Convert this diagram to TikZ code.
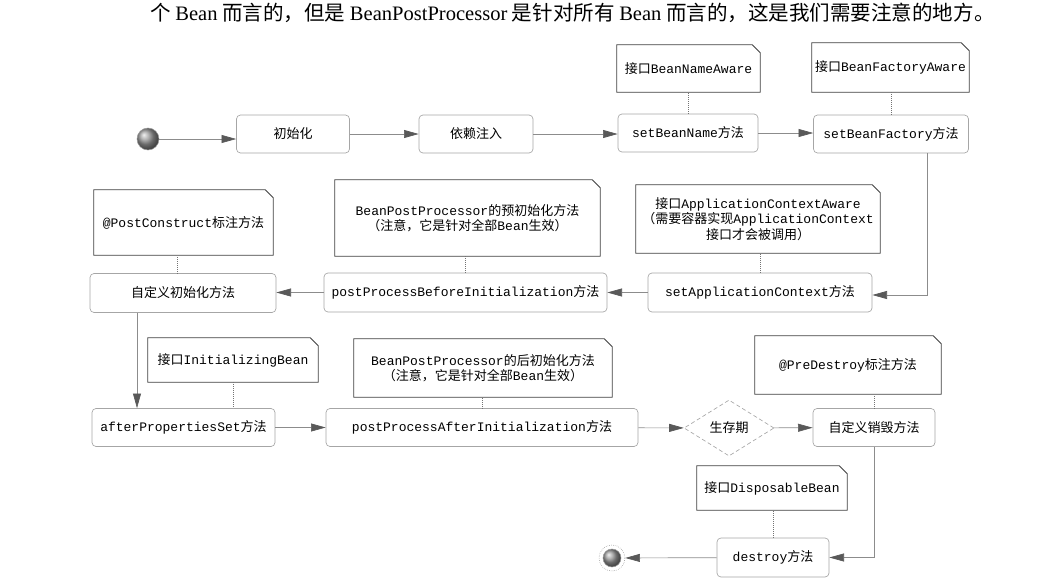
\documentclass[tikz,border=0pt]{standalone}
\usepackage{fontspec}
\setmainfont{Noto Sans CJK SC}
\setmonofont{Liberation Mono}
\newfontfamily\latinserif{Liberation Serif}
\usetikzlibrary{arrows.meta,shapes.geometric}

\tikzset{
  stepbox/.style={draw=black!35, line width=0.5pt, rounded corners=3pt, fill=white, inner sep=0pt, font=\fontsize{9.75}{11.5}\selectfont},
  notebox/.style={inner sep=0pt, align=center, font=\fontsize{9.75}{11.5}\selectfont},
  flow/.style={draw=black!45, line width=0.5pt, -{Triangle[length=11pt,width=6pt,color=black!65]}},
  link/.style={draw=black!55, line width=0.5pt, densely dotted},
}
% dog-eared frame round a note node
\newcommand{\noteframe}[1]{%
  \draw[draw=black!75, line width=0.6pt] (#1.north west) -- ([xshift=-6pt]#1.north east) -- ([yshift=6pt]#1.north east) -- (#1.south east) -- (#1.south west) -- cycle;
}

\begin{document}
\begin{tikzpicture}[x=0.75pt,y=0.75pt,yscale=-1,xscale=1]
\path[use as bounding box] (0,0) rectangle (1060,578);

% Text Node
\node[anchor=west, inner sep=0pt, font=\fontsize{15.4}{17}\selectfont] (caption) at (150,13) {个 {\latinserif Bean} 而言的，但是 {\latinserif BeanPostProcessor} 是针对所有 {\latinserif Bean} 而言的，这是我们需要注意的地方。};

%Row 1
\node[circle, draw=black!40, minimum size=16.5pt, inner sep=0pt, ball color=black!40] (start) at (148,139) {};
\node[stepbox, minimum width=84.75pt, minimum height=28.5pt] (init) at (293,134) {初始化};
\node[stepbox, minimum width=85.5pt, minimum height=28.5pt] (inject) at (476,134) {依赖注入};
\node[stepbox, minimum width=105pt, minimum height=28.5pt] (setName) at (688,133) {\texttt{setBeanName}方法};
\node[stepbox, minimum width=116.25pt, minimum height=28.5pt] (setFactory) at (891,134) {\texttt{setBeanFactory}方法};
\node[notebox, minimum width=107.25pt, minimum height=35.25pt] (noteName) at (688.5,68.5) {接口\texttt{BeanNameAware}};
\node[notebox, minimum width=117.75pt, minimum height=36.75pt] (noteFactory) at (890.5,67.5) {接口\texttt{BeanFactoryAware}};

%Row 2
\node[stepbox, minimum width=168pt, minimum height=29.25pt] (setApp) at (760,292.5) {\texttt{setApplicationContext}方法};
\node[stepbox, minimum width=212.25pt, minimum height=29.25pt] (ppBefore) at (465.5,292.5) {\texttt{postProcessBeforeInitialization}方法};
\node[stepbox, minimum width=139.5pt, minimum height=29.25pt] (customInit) at (183,293) {自定义初始化方法};
\node[notebox, minimum width=183pt, minimum height=51pt] (noteApp) at (758,219) {接口\texttt{ApplicationContextAware}\\（需要容器实现\texttt{ApplicationContext}\\接口才会被调用）};
\node[notebox, minimum width=198.75pt, minimum height=57pt] (noteBefore) at (467.5,218) {\texttt{BeanPostProcessor}的预初始化方法\\（注意，它是针对全部\texttt{Bean}生效）};
\node[notebox, minimum width=134.25pt, minimum height=48.75pt] (notePost) at (183.5,222.5) {\texttt{@PostConstruct}标注方法};

%Row 3
\node[stepbox, minimum width=137.25pt, minimum height=28.5pt] (afterProps) at (183.5,427.5) {\texttt{afterPropertiesSet}方法};
\node[stepbox, minimum width=234pt, minimum height=28.5pt] (ppAfter) at (482,427.5) {\texttt{postProcessAfterInitialization}方法};
\node[diamond, draw=black!35, densely dashed, line width=0.5pt, aspect=1.6, inner sep=0pt, minimum width=67.5pt, minimum height=42pt, font=\fontsize{9.75}{11.5}\selectfont] (life) at (729,428) {生存期};
\node[stepbox, minimum width=91.5pt, minimum height=28.5pt] (customDestroy) at (874,427.5) {自定义销毁方法};
\node[notebox, minimum width=127.5pt, minimum height=33pt] (noteInit) at (233,360) {接口\texttt{InitializingBean}};
\node[notebox, minimum width=193.5pt, minimum height=43.5pt] (noteAfter) at (483,368) {\texttt{BeanPostProcessor}的后初始化方法\\（注意，它是针对全部\texttt{Bean}生效）};
\node[notebox, minimum width=139.5pt, minimum height=43.5pt] (noteDestroy) at (848,365) {\texttt{@PreDestroy}标注方法};

%Row 4
\node[stepbox, minimum width=84pt, minimum height=29.25pt] (destroy) at (773,557.5) {\texttt{destroy}方法};
\node[notebox, minimum width=112.5pt, minimum height=33pt] (noteDisp) at (772,488) {接口\texttt{DisposableBean}};
\node[circle, draw=black!50, densely dotted, minimum size=19.5pt, inner sep=0pt] (finish) at (612,558) {};
\node[circle, draw=black!40, minimum size=13.5pt, inner sep=0pt, ball color=black!40] (finishDot) at (finish) {};

% note frames
\noteframe{noteName}
\noteframe{noteFactory}
\noteframe{noteApp}
\noteframe{noteBefore}
\noteframe{notePost}
\noteframe{noteInit}
\noteframe{noteAfter}
\noteframe{noteDestroy}
\noteframe{noteDisp}

% dotted note links
\draw[link] (setName.north) -- (setName.north |- noteName.south);
\draw[link] (setFactory.north) -- (setFactory.north |- noteFactory.south);
\draw[link] (setApp.north) -- (setApp.north |- noteApp.south);
\draw[link] (ppBefore.north) -- (ppBefore.north |- noteBefore.south);
\draw[link] ([xshift=-4pt]customInit.north) -- ([xshift=-4pt]customInit.north |- notePost.south);
\draw[link] (noteInit.south) -- (noteInit.south |- afterProps.north);
\draw[link] (ppAfter.north) -- (ppAfter.north |- noteAfter.south);
\draw[link] (customDestroy.north) -- (customDestroy.north |- noteDestroy.south);
\draw[link] (destroy.north) -- (destroy.north |- noteDisp.south);

% flow
\coordinate (turnA) at (927,295);
\coordinate (downA) at (137,0);
\draw[flow] (start) -- (init.west |- start);
\draw[flow] (init) -- (inject);
\draw[flow] (inject) -- (setName.west |- inject);
\draw[flow] (setName) -- (setFactory.west |- setName);
\draw[flow] (setFactory.south -| turnA) |- (setApp.east |- turnA);
\draw[flow] (setApp) -- (ppBefore);
\draw[flow] (ppBefore) -- (customInit.east |- ppBefore);
\draw[flow] (customInit.south -| downA) -- (afterProps.north -| downA);
\draw[flow] (afterProps) -- (ppAfter);
\draw[flow] (ppAfter) -- (life);
\draw[flow] (life) -- (customDestroy);
\draw[flow] (customDestroy.south) |- (destroy.east);
\draw[flow] (destroy) -- (finish);

\end{tikzpicture}
\end{document}
